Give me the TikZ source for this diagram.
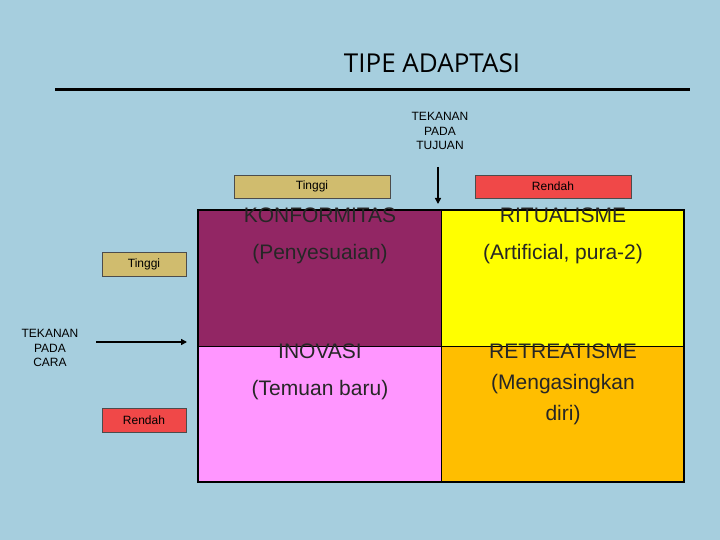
\documentclass[tikz,border=0pt]{standalone}
\usepackage{fontspec}
\setmainfont{Liberation Sans}
\newfontfamily\titlefont{Open Sans}
\usetikzlibrary{arrows.meta}
\definecolor{bg}{RGB}{166,206,222}
\definecolor{tan}{RGB}{208,188,110}
\definecolor{redb}{RGB}{240,72,72}
\definecolor{purp}{RGB}{146,38,100}
\definecolor{yel}{RGB}{255,255,0}
\definecolor{pink}{RGB}{255,150,255}
\definecolor{orng}{RGB}{255,190,0}
\begin{document}
\begin{tikzpicture}[x=1pt,y=-1pt,
  lab/.style={draw=black!70,minimum height=23pt,inner sep=0pt,font=\fontsize{12}{14}\selectfont},
  cell/.style={draw=black,line width=1pt,minimum width=243pt,minimum height=136pt,anchor=north west,inner sep=0pt},
  ctext/.style={align=center,font=\fontsize{21}{37}\selectfont,text=black!85},
  side/.style={align=center,font=\fontsize{12}{14.5}\selectfont},
  arr/.style={line width=2pt,-{Triangle[length=6pt,width=6pt]}}]
\fill[bg] (0,0) rectangle (720,540);
\useasboundingbox (0,0) rectangle (720,540);
\node[font=\titlefont\fontsize{26}{30}\selectfont] (title) at (432,63) {TIPE ADAPTASI};
\coordinate (l1) at (55,90); \coordinate (l2) at (690,90);
\draw[line width=3pt] (l1) -- (l2);
\node[side] (tuj) at (440,131) {TEKANAN\\PADA\\TUJUAN};
\node[lab,fill=tan,minimum width=156pt] (ttop) at (312,186.5) {Tinggi};
\node[lab,fill=redb,minimum width=156pt] (rtop) at (553,186.5) {Rendah};
\node[lab,fill=tan,minimum width=84pt,minimum height=24pt] (tl) at (144,264) {Tinggi};
\node[lab,fill=redb,minimum width=84pt,minimum height=24pt] (rl) at (144,420) {Rendah};
\node[side] (cara) at (50,348) {TEKANAN\\PADA\\CARA};
\node[cell,fill=purp] (c11) at (198,210) {};
\node[cell,fill=yel] (c12) at (441,210) {};
\node[cell,fill=pink] (c21) at (198,346) {};
\node[cell,fill=orng] (c22) at (441,346) {};
\draw[line width=1.5pt] (198,210) rectangle (684,482);
\node[ctext,anchor=north] at ([yshift=6pt]c11.north) {KONFORMITAS\\(Penyesuaian)};
\node[ctext,anchor=north] at ([yshift=6pt]c12.north) {RITUALISME\\(Artificial, pura-2)};
\node[ctext,anchor=north] at ([yshift=6pt]c21.north) {INOVASI\\(Temuan baru)};
\node[ctext,anchor=north,font=\fontsize{21}{37}\selectfont] at ([yshift=6pt]c22.north) {RETREATISME\\[-6pt](Mengasingkan\\[-6pt]diri)};
\coordinate (va) at (438,167); \coordinate (vb) at (438,204);
\draw[arr] (va) -- (vb);
\coordinate (ha) at (96,342); \coordinate (hb) at (187,342);
\draw[arr] (ha) -- (hb);
\end{tikzpicture}
\end{document}
